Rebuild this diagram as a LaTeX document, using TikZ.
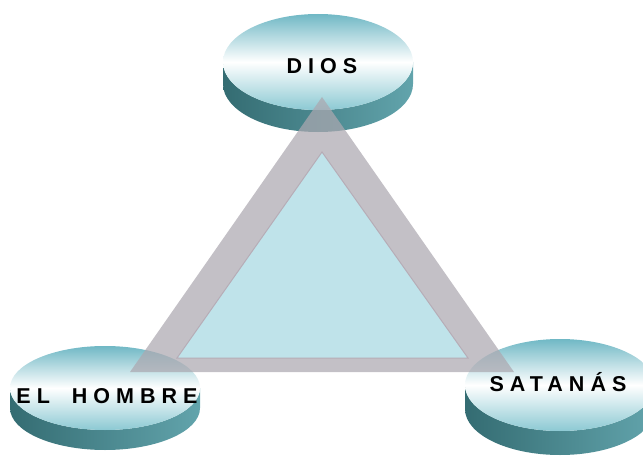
\documentclass[tikz,border=0pt]{standalone}
\usepackage{fontspec}
\setmainfont{Liberation Sans}
\newfontfamily\spacedfont[LetterSpace=28]{Liberation Sans}
\definecolor{sidedark}{RGB}{52,108,114}
\definecolor{sidelight}{RGB}{98,164,172}
\definecolor{facetop}{RGB}{112,184,197}
\definecolor{facebot}{RGB}{140,201,211}
\definecolor{bandgray}{RGB}{172,168,176}
\definecolor{bandedge}{RGB}{182,172,182}
\definecolor{innerblue}{RGB}{191,227,234}
\newcommand\mydisc[5]{%
  \shade[left color=sidedark,right color=sidelight]
    (#1-#3,#2) -- (#1-#3,#2-#5)
    arc[start angle=180,end angle=360,x radius=#3pt,y radius=#4pt]
    -- (#1+#3,#2)
    arc[start angle=0,end angle=-180,x radius=#3pt,y radius=#4pt] -- cycle;
  \shade[top color=facetop,bottom color=facebot,middle color=white]
    (#1,#2) ellipse[x radius=#3pt,y radius=#4pt];
}
\tikzset{
  label text/.style={font=\spacedfont\bfseries\fontsize{21.5}{24}\selectfont,text=black,inner sep=0pt}
}
\begin{document}
\begin{tikzpicture}[x=1pt,y=1pt]
\useasboundingbox (0,0) rectangle (643,459);
\begin{scope}
\clip (0,0) rectangle (643,459);
% discs
\mydisc{318}{397}{95}{48}{22}
\mydisc{105}{71}{95}{42}{20}
\mydisc{560}{74}{95}{46}{24}
\end{scope}
% triangle
\coordinate (oa) at (322,362);
\coordinate (ob) at (130,87);
\coordinate (oc) at (514,87);
\coordinate (ia) at (322,307);
\coordinate (ib) at (177,101);
\coordinate (ic) at (468,101);
\fill[bandgray,opacity=0.72,even odd rule] (oa) -- (ob) -- (oc) -- cycle (ia) -- (ib) -- (ic) -- cycle;
\fill[innerblue] (ia) -- (ib) -- (ic) -- cycle;
\draw[bandedge,line width=1pt,line join=miter] (ia) -- (ib) -- (ic) -- cycle;
% labels
\node[label text] (dios) at (322,393) {DIOS};
\node[label text] (hombre) at (107,63) {EL\hspace{22pt}HOMBRE};
\node[label text] (satanas) at (558,77) {SATANÁS};
\end{tikzpicture}
\end{document}
